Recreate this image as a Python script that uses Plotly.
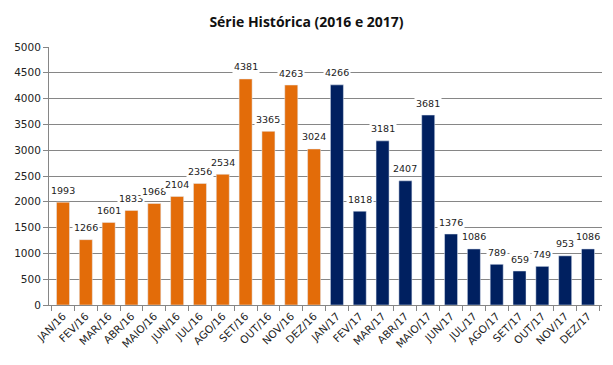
import plotly.graph_objects as go

months_2016 = ["JAN/16", "FEV/16", "MAR/16", "ABR/16", "MAIO/16", "JUN/16",
               "JUL/16", "AGO/16", "SET/16", "OUT/16", "NOV/16", "DEZ/16"]
values_2016 = [1993, 1266, 1601, 1833, 1968, 2104, 2356, 2534, 4381, 3365, 4263, 3024]
months_2017 = ["JAN/17", "FEV/17", "MAR/17", "ABR/17", "MAIO/17", "JUN/17",
               "JUL/17", "AGO/17", "SET/17", "OUT/17", "NOV/17", "DEZ/17"]
values_2017 = [4266, 1818, 3181, 2407, 3681, 1376, 1086, 789, 659, 749, 953, 1086]
y_ticks = [0, 500, 1000, 1500, 2000, 2500, 3000, 3500, 4000, 4500, 5000]

ORANGE = "#E36C09"
NAVY = "#002060"
FONT = "DejaVu Sans"

fig = go.Figure()
fig.add_trace(go.Bar(x=months_2016, y=values_2016, marker_color=ORANGE, name="2016"))
fig.add_trace(go.Bar(x=months_2017, y=values_2017, marker_color=NAVY, name="2017"))

for xs, ys in ((months_2016, values_2016), (months_2017, values_2017)):
    for x, y in zip(xs, ys):
        fig.add_annotation(x=x, y=y, text=str(y), showarrow=False, yshift=12,
                           bgcolor="white", borderpad=1,
                           font=dict(family=FONT, size=9.5, color="#222222"))

fig.update_layout(
    width=613, height=365,
    margin=dict(l=49, r=11, t=47, b=60),
    paper_bgcolor="white", plot_bgcolor="white",
    showlegend=False,
    barmode="overlay",
    bargap=0.43,
    title=dict(text="<b>Série Histórica (2016 e 2017)</b>", x=0.5, xanchor="center",
               y=0.94, yanchor="middle",
               font=dict(family="Open Sans", size=14, color="#111111")),
    xaxis=dict(categoryorder="array", categoryarray=months_2016 + months_2017,
               tickangle=-45, tickfont=dict(family=FONT, size=10.5, color="#222222"),
               showline=True, linecolor="#868686", ticks="outside", ticklen=5,
               tickcolor="#868686", tickson="boundaries", showgrid=False,
               automargin=False),
    yaxis=dict(range=[0, 5000], tickvals=y_ticks, showgrid=True, gridcolor="#868686",
               tickfont=dict(family=FONT, size=10.5, color="#222222"),
               showline=True, linecolor="#868686", ticks="outside", ticklen=5,
               tickcolor="#868686", zeroline=False, automargin=False),
)

fig.write_html("out.html", config={"displayModeBar": False},
               post_script="document.body.style.margin='0';")
